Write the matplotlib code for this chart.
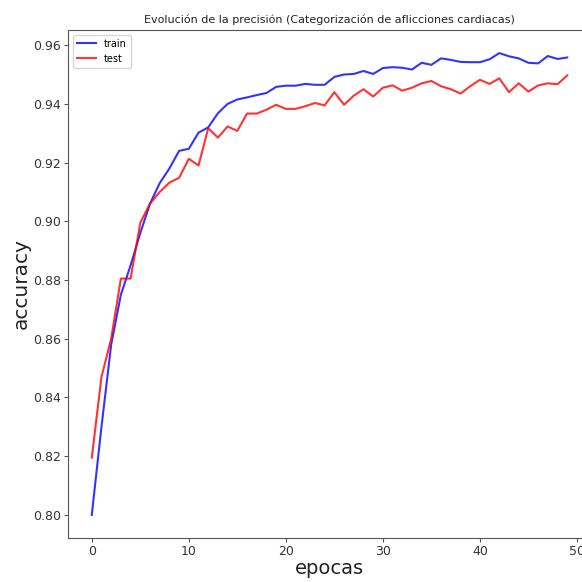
import matplotlib
matplotlib.use("Agg")
import matplotlib.pyplot as plt
import numpy as np

epochs = list(range(50))
train_acc = [0.800, 0.830, 0.858, 0.875, 0.885, 0.896, 0.906, 0.913, 0.918, 0.924,
             0.9247, 0.9302, 0.9320, 0.9368, 0.9400, 0.9415, 0.9422, 0.9430, 0.9437, 0.9458,
             0.9462, 0.9462, 0.9468, 0.9465, 0.9465, 0.9492, 0.9500, 0.9502, 0.9512, 0.9502,
             0.9522, 0.9525, 0.9523, 0.9517, 0.9540, 0.9533, 0.9555, 0.9550, 0.9543, 0.9542,
             0.9542, 0.9552, 0.9573, 0.9562, 0.9555, 0.9540, 0.9538, 0.9563, 0.9553, 0.9558]
test_acc = [0.8195, 0.847, 0.860, 0.8805, 0.8805, 0.8995, 0.906, 0.910, 0.9132, 0.9148,
            0.9213, 0.9190, 0.9317, 0.9285, 0.9323, 0.9308, 0.9367, 0.9367, 0.9380, 0.9397,
            0.9383, 0.9383, 0.9392, 0.9403, 0.9395, 0.9440, 0.9397, 0.9428, 0.9450, 0.9425,
            0.9455, 0.9463, 0.9445, 0.9455, 0.9470, 0.9478, 0.9460, 0.9450, 0.9435, 0.9460,
            0.9482, 0.9468, 0.9487, 0.9440, 0.9470, 0.9442, 0.9463, 0.9470, 0.9467, 0.9497]

title = "Evolución de la precisión (Categorización de aflicciones cardiacas)"

fig = plt.figure(figsize=(5.82, 5.82), dpi=100)
ax = fig.add_axes([68/582, 44/582, 523/582, 508/582])
ax.plot(epochs, train_acc, color="blue", alpha=0.8, lw=1.5, label="train")
ax.plot(epochs, test_acc, color="red", alpha=0.8, lw=1.5, label="test")
ax.set_title(title, fontsize=8, color="#222222", pad=5)
ax.set_xlabel("epocas", fontsize=14, color="#222222", labelpad=1)
ax.set_ylabel("accuracy", fontsize=14.5, color="#222222", labelpad=2)
for s in ax.spines.values():
    s.set_color("#555555")
ax.tick_params(colors="#555555", labelcolor="#333333", labelsize=9, length=3, pad=2)
ax.set_xticks([0, 10, 20, 30, 40, 50])
ax.set_yticks([0.80, 0.82, 0.84, 0.86, 0.88, 0.90, 0.92, 0.94, 0.96])
ax.set_yticklabels(["%.2f" % v for v in ax.get_yticks()])
ax.legend(loc="upper left", fontsize=7)
fig.savefig("out.png", dpi=100)
